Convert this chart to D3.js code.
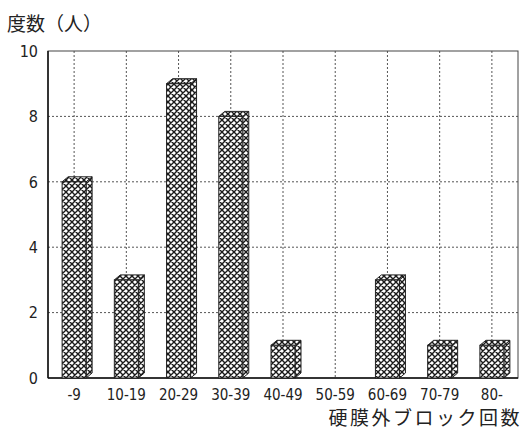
<!DOCTYPE html>
<html><head><meta charset="utf-8">
<script src="https://cdn.jsdelivr.net/npm/d3@7"></script>
<style>
html,body{margin:0;padding:0;background:#fff;}
svg{display:block;}
</style></head>
<body>
<script>
const categories = ["-9","10-19","20-29","30-39","40-49","50-59","60-69","70-79","80-"];
const counts = [6,3,9,8,1,0,3,1,1];
const yTicks = [0,2,4,6,8,10];
const yTitle = "度数（人）";
const xTitle = "硬膜外ブロック回数";

const W = 528, H = 432;
const m = {left:48, right:10, top:51, bottom:54};
const svg = d3.select("body").append("svg").attr("width",W).attr("height",H);

const defs = svg.append("defs");
const P = 6;
const pat = defs.append("pattern").attr("id","hatch").attr("patternUnits","userSpaceOnUse")
  .attr("width",P).attr("height",P);
pat.append("rect").attr("width",P).attr("height",P).attr("fill","#fff");
pat.append("path").attr("d",`M0,0L${P},${P}M${P},0L0,${P}M-1,${P-1}L1,${P+1}M${P-1},-1L${P+1},1M${P-1},${P+1}L${P+1},${P-1}M-1,1L1,-1`)
  .attr("stroke","#1a1a1a").attr("stroke-width",1.4).attr("fill","none");

const x = d3.scaleBand().domain(categories).range([m.left, W-m.right]).padding(0);
const y = d3.scaleLinear().domain([0,10]).range([H-m.bottom, m.top]);
const x0 = m.left, x1 = W-m.right, y0 = H-m.bottom, y1 = m.top;

const grid = svg.append("g").attr("stroke","#555").attr("stroke-width",1).attr("stroke-dasharray","2,2");
yTicks.filter(t=>t>0 && t<10).forEach(t=>{
  grid.append("line").attr("x1",x0).attr("x2",x1).attr("y1",y(t)).attr("y2",y(t));
});
categories.forEach(c=>{
  const cx = x(c)+x.bandwidth()/2;
  grid.append("line").attr("x1",cx).attr("x2",cx).attr("y1",y1).attr("y2",y0);
});

// frame
svg.append("rect").attr("x",x0).attr("y",y1).attr("width",x1-x0).attr("height",y0-y1)
  .attr("fill","none").attr("stroke","#444").attr("stroke-width",1);
svg.append("line").attr("x1",x0).attr("x2",x0).attr("y1",y1).attr("y2",y0).attr("stroke","#111").attr("stroke-width",1.5);
svg.append("line").attr("x1",x0).attr("x2",x1).attr("y1",y0).attr("y2",y0).attr("stroke","#111").attr("stroke-width",1.5);

// bars
const bw = 24, dx = 6, dy = 5;
const bars = svg.append("g");
categories.forEach((c,i)=>{
  const v = counts[i];
  if(v<=0) return;
  const cx = x(c)+x.bandwidth()/2;
  const l = cx-bw/2, r = cx+bw/2, t = y(v), b = y(0);
  const g = bars.append("g").attr("stroke","#222").attr("stroke-width",1).attr("fill","url(#hatch)");
  g.append("path").attr("d",`M${r},${b}L${r},${t}L${r+dx},${t-dy}L${r+dx},${b-dy}Z`);
  g.append("path").attr("d",`M${l},${t}L${l+dx},${t-dy}L${r+dx},${t-dy}L${r},${t}Z`);
  g.append("rect").attr("x",l).attr("y",t).attr("width",bw).attr("height",b-t);
});

// y tick labels
const tf = "'Liberation Sans Narrow','DejaVu Sans Condensed',Arial,sans-serif";
svg.append("g").selectAll("text").data(yTicks).join("text")
  .attr("x",x0-10).attr("y",d=>y(d)).attr("dy","0.36em").attr("text-anchor","end")
  .attr("font-family",tf).attr("font-size",16).attr("fill","#222").text(d=>d);

// x tick labels
svg.append("g").selectAll("text").data(categories).join("text")
  .attr("x",d=>x(d)+x.bandwidth()/2).attr("y",y0+22).attr("text-anchor","middle")
  .attr("font-family",tf).attr("font-size",15).attr("fill","#222").text(d=>d);

// titles
svg.append("text").attr("x",7).attr("y",31).attr("font-family","'Noto Sans CJK JP',sans-serif")
  .attr("font-size",19).attr("fill","#222").text(yTitle);
svg.append("text").attr("x",522).attr("y",425).attr("text-anchor","end")
  .attr("font-family","'Noto Sans CJK JP',sans-serif").attr("font-size",19)
  .attr("letter-spacing",2.5).attr("fill","#222").text(xTitle);
</script>
</body></html>
